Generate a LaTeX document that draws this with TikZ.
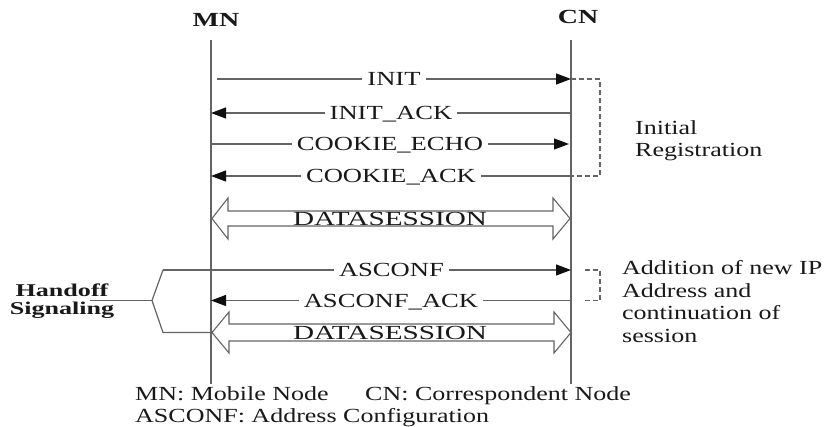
\documentclass[tikz,border=0pt]{standalone}
\usepackage{fontspec}
\setmainfont{Liberation Serif}
\usepackage{graphicx}
\usetikzlibrary{arrows.meta}
\definecolor{linecol}{RGB}{100,100,100}
\definecolor{txtcol}{RGB}{25,25,25}
\definecolor{tipcol}{RGB}{15,15,15}
\newcommand{\sx}[2][1.33]{\scalebox{#1}[1]{#2}}
\begin{document}
\begin{tikzpicture}[x=1pt,y=-1pt,
  lbl/.style={font=\fontsize{20}{22.5}\selectfont, text=txtcol, inner sep=0pt},
  msglbl/.style={lbl, fill=white, inner xsep=5pt, inner ysep=2pt, text height=13.2pt, text depth=0pt},
  life/.style={draw=linecol, line width=1.3pt},
  msg/.style={draw=linecol, line width=1.2pt, -{Triangle[length=15pt,width=11pt,color=tipcol]}},
  bracket/.style={draw=linecol, line width=1.1pt, dash pattern=on 5pt off 3pt},
  fat/.style={draw=linecol, line width=1.1pt, line join=miter},
  hand/.style={draw=linecol, line width=1.2pt}]
\fill[white] (0,0) rectangle (825,427);
\useasboundingbox (0,0) rectangle (825,427);

% headers
\node[lbl, font=\fontsize{20}{22}\selectfont\bfseries] (mnlab) at (216,20) {\sx[1.4]{MN}};
\node[lbl, font=\fontsize{20}{22}\selectfont\bfseries] (cnlab) at (578,17) {\sx[1.4]{CN}};

% lifelines
\coordinate (mnT) at (211,40); \coordinate (mnB) at (211,384);
\coordinate (cnT) at (571,40); \coordinate (cnB) at (571,384);
\draw[life] (mnT) -- (mnB);
\draw[life] (cnT) -- (cnB);

% message end points
\coordinate (mn1) at (211,79);  \coordinate (cn1) at (571,79);
\coordinate (mn2) at (211,113); \coordinate (cn2) at (571,113);
\coordinate (mn3) at (211,144); \coordinate (cn3) at (569,144);
\coordinate (mn4) at (211,176); \coordinate (cn4) at (571,176);
\coordinate (hsT) at (163,270); \coordinate (cn5) at (571,270);
\coordinate (mn6) at (211,300.5); \coordinate (cn6) at (571,300.5);

% messages
\draw[msg] ([xshift=6pt]mn1) -- node[msglbl]{\sx{INIT}} (cn1);
\draw[msg] (cn2) -- node[msglbl]{\sx{INIT\_ACK}} (mn2);
\draw[msg] (mn3) -- node[msglbl]{\sx{COOKIE\_ECHO}} (cn3);
\draw[msg] (cn4) -- node[msglbl]{\sx{COOKIE\_ACK}} (mn4);
\draw[msg] (hsT) -- node[msglbl, pos=0.56]{\sx{ASCONF}} (cn5);
\draw[msg] (cn6) -- node[msglbl]{\sx{ASCONF\_ACK}} (mn6);

% dashed brackets
\draw[bracket] (cn1) -- ++(29,0) |- (cn4);
\coordinate (b2a) at (585,270); \coordinate (b2b) at (585,300.5);
\draw[bracket] (b2a) -- ++(15,0) |- (b2b);

% data sessions
\coordinate (ds1L) at (212,218.5); \coordinate (ds1R) at (570,218.5);
\draw[fat] (ds1L) -- ++(16,-20.5) -- ++(0,13) -- ++(325,0) -- ++(0,-13) -- (ds1R)
  -- ++(-17,20.5) -- ++(0,-13) -- ++(-325,0) -- ++(0,13) -- cycle;
\node[lbl] (ds1) at (390,219) {\sx[1.46]{DATASESSION}};

\coordinate (ds2L) at (212,332.5); \coordinate (ds2R) at (571,332.5);
\draw[fat] (ds2L) -- ++(17,-20.5) -- ++(0,12) -- ++(325,0) -- ++(0,-12) -- (ds2R)
  -- ++(-17,20.5) -- ++(0,-12) -- ++(-325,0) -- ++(0,12) -- cycle;
\node[lbl] (ds2) at (390,333) {\sx[1.46]{DATASESSION}};

% handoff bracket
\coordinate (hoL) at (90,300.5); \coordinate (hoV) at (152,300.5);
\coordinate (hoB) at (163,332.5);
\draw[hand] (hsT) -- (hoV) -- (hoB) -- (ds2L);
\draw[hand] (hoL) -- (hoV);
\node[lbl, font=\fontsize{18}{18}\selectfont\bfseries, anchor=base] (ho) at (62,297)
  {\sx[1.45]{\begin{tabular}[t]{@{}c@{}}Handoff\\Signaling\end{tabular}}};

% side notes
\node[lbl, font=\fontsize{20}{22}\selectfont, anchor=base west] (ir) at (635,135)
  {\sx[1.3]{\begin{tabular}[t]{@{}l@{}}Initial\\Registration\end{tabular}}};
\node[lbl, font=\fontsize{20}{22.5}\selectfont, anchor=base west] (add) at (622,275)
  {\sx[1.3]{\begin{tabular}[t]{@{}l@{}}Addition of new IP\\Address and\\continuation of\\session\end{tabular}}};

% footer
\node[lbl, anchor=base west] (f1) at (135,401) {\sx[1.3]{MN: Mobile Node}};
\node[lbl, anchor=base west] (f2) at (365,401) {\sx[1.3]{CN: Correspondent Node}};
\node[lbl, anchor=base west] (f3) at (135,423) {\sx[1.3]{ASCONF: Address Configuration}};
\end{tikzpicture}
\end{document}
